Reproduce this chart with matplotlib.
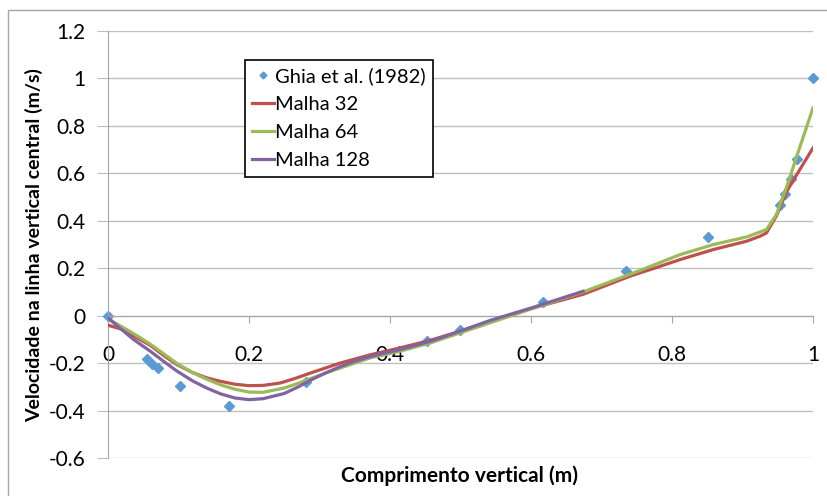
import matplotlib
matplotlib.use('Agg')
import matplotlib.pyplot as plt
from matplotlib.patches import Rectangle

plt.rcParams['font.family'] = ['Lato', 'DejaVu Sans']

# Ghia et al. (1982), Re = 1000, u along the vertical centreline
ghia_y = [0.0, 0.0547, 0.0625, 0.0703, 0.1016, 0.1719, 0.2813, 0.4531, 0.5,
          0.6172, 0.7344, 0.8516, 0.9531, 0.9609, 0.9688, 0.9766, 1.0]
ghia_u = [0.0, -0.18109, -0.20196, -0.22220, -0.29730, -0.38289, -0.27805,
          -0.10648, -0.06080, 0.05702, 0.18719, 0.33304, 0.46604, 0.51117,
          0.57492, 0.65928, 1.0]

# simulated profiles
m32_y = [0.0, 0.02, 0.036, 0.06, 0.08, 0.097, 0.12, 0.14, 0.16, 0.18, 0.2,
         0.22, 0.244, 0.265, 0.287, 0.31, 0.329, 0.35, 0.372, 0.414, 0.457,
         0.499, 0.542, 0.6, 0.674, 0.74, 0.78, 0.811, 0.859, 0.906, 0.925,
         0.934, 0.948, 0.963, 0.977, 1.0]
m32_u = [-0.04, -0.058, -0.085, -0.125, -0.17, -0.205, -0.24, -0.262, -0.277,
         -0.289, -0.295, -0.294, -0.284, -0.265, -0.242, -0.219, -0.2, -0.183,
         -0.165, -0.136, -0.104, -0.066, -0.023, 0.03, 0.09, 0.166, 0.205,
         0.236, 0.279, 0.314, 0.335, 0.349, 0.42, 0.525, 0.595, 0.707]

m64_y = [0.0, 0.036, 0.06, 0.08, 0.097, 0.12, 0.14, 0.16, 0.18, 0.2, 0.22,
         0.25, 0.27, 0.29, 0.31, 0.329, 0.35, 0.372, 0.414, 0.457, 0.499,
         0.542, 0.6, 0.674, 0.755, 0.811, 0.859, 0.906, 0.934, 0.948, 0.963,
         0.977, 1.0]
m64_u = [-0.013, -0.075, -0.12, -0.163, -0.2, -0.24, -0.268, -0.292, -0.31,
         -0.322, -0.323, -0.305, -0.285, -0.262, -0.24, -0.221, -0.2, -0.178,
         -0.15, -0.115, -0.073, -0.03, 0.028, 0.1, 0.191, 0.257, 0.30, 0.332,
         0.363, 0.426, 0.546, 0.672, 0.876]

m128_y = [0.0, 0.036, 0.06, 0.08, 0.097, 0.12, 0.14, 0.16, 0.18, 0.2, 0.22,
          0.25, 0.27, 0.29, 0.31, 0.329, 0.35, 0.372, 0.414, 0.457, 0.499,
          0.542, 0.6, 0.674]
m128_u = [-0.01, -0.1, -0.15, -0.195, -0.232, -0.275, -0.305, -0.33, -0.347,
          -0.354, -0.35, -0.328, -0.3, -0.268, -0.24, -0.215, -0.192, -0.172,
          -0.143, -0.108, -0.066, -0.02, 0.032, 0.103]

fig = plt.figure(figsize=(8.28, 4.96), dpi=100)
ax = fig.add_axes([108/828, 1-458/496, (813-108)/828, (458-31)/496])

ax.plot(ghia_y, ghia_u, 'D', color='#5B9BD5', ms=5, mec='#5B9BD5',
        label='Ghia et al. (1982)', clip_on=False, zorder=2)
ax.plot(m32_y, m32_u, color='#C0504D', lw=2.3, label='Malha 32', zorder=3,
        solid_joinstyle='round')
ax.plot(m64_y, m64_u, color='#9BBB59', lw=2.3, label='Malha 64', zorder=4,
        solid_joinstyle='round')
ax.plot(m128_y, m128_u, color='#8064A2', lw=2.3, label='Malha 128', zorder=5,
        solid_joinstyle='round')

ax.set_xlim(0, 1)
ax.set_ylim(-0.6, 1.2)
ax.set_xticks([0, 0.2, 0.4, 0.6, 0.8, 1])
ax.set_xticklabels(['0', '0.2', '0.4', '0.6', '0.8', '1'])
ax.set_yticks([-0.6, -0.4, -0.2, 0, 0.2, 0.4, 0.6, 0.8, 1, 1.2])
ax.set_yticklabels(['-0.6', '-0.4', '-0.2', '0', '0.2', '0.4', '0.6', '0.8',
                    '1', '1.2'])

ax.grid(axis='y', color='#BFBFBF', lw=1)
ax.set_axisbelow(True)
for s in ['top', 'right']:
    ax.spines[s].set_visible(False)
ax.spines['bottom'].set_position(('data', 0))
ax.spines['bottom'].set_color('#A6A6A6')
ax.spines['left'].set_color('#A6A6A6')
ax.tick_params(axis='x', direction='out', length=5, color='#A6A6A6',
               labelsize=15, pad=16)
ax.tick_params(axis='y', direction='out', length=8, color='#BFBFBF',
               labelsize=15, pad=8)

fig.text(34/828, 1-245/496, 'Velocidade na linha vertical central (m/s)',
         rotation=90, ha='center', va='center', fontsize=14,
         fontweight='bold')
fig.text(460/828, 1-476/496, 'Comprimento vertical (m)', ha='center',
         va='center', fontsize=15, fontweight='bold')

leg = ax.legend(loc='upper left', bbox_to_anchor=(245/828, 1-60/496),
                bbox_transform=fig.transFigure, fontsize=14.5, fancybox=False,
                framealpha=1, edgecolor='black', handlelength=1.1,
                handletextpad=0.05, borderpad=0.35, labelspacing=0.55,
                borderaxespad=0, markerscale=0.7)
leg.get_frame().set_linewidth(1.2)

# chart border
fig.patches.append(Rectangle((8/828, -0.05), 1.1, 1-10/496+0.05,
                             transform=fig.transFigure, fill=False,
                             edgecolor='#A6A6A6', lw=1))

fig.savefig('out.png', dpi=100)
